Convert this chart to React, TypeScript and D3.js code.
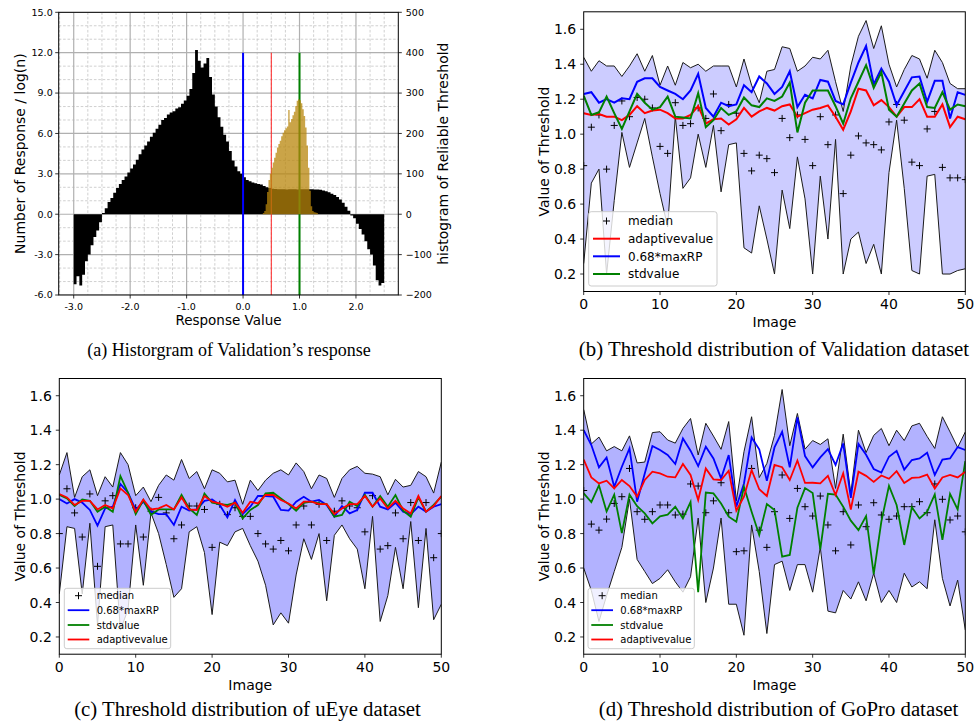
import React from 'react';
import * as d3 from 'd3';

// ---------------- Panel (a) data ----------------
const responseBinStart = -3.0;
const responseBinWidth = 0.05;
const responseLogCounts = [
  -5.2, -4.6, -5.3, -4.5, -3.5, -3.0, -2.3, -1.7, -1.2, -0.6,
  0.1, 0.45, 0.9, 1.2, 1.6, 1.95, 2.25, 2.55, 2.8, 3.1,
  3.4, 3.7, 4.05, 4.45, 4.8, 5.1, 5.4, 5.75, 6.05, 6.35,
  6.65, 7.0, 7.15, 7.4, 7.55, 7.65, 7.85, 7.95, 8.2, 8.45,
  8.8, 9.3, 10.5, 12.2, 11.4, 10.9, 11.2, 11.6, 10.2, 8.9,
  8.0, 7.2, 6.5, 5.9, 5.4, 4.7, 4.0, 3.55, 3.2, 3.0,
  2.75, 2.55, 2.45, 2.35, 2.3, 2.25, 2.2, 2.1, 2.0, 1.95,
  1.9, 1.88, 1.86, 1.85, 1.85, 1.84, 1.85, 1.86, 1.85, 1.84,
  1.85, 1.86, 1.85, 1.85, 1.85, 1.84, 1.83, 1.81, 1.77, 1.71,
  1.63, 1.53, 1.42, 1.28, 1.1, 0.85, 0.55, 0.25, -0.1, -0.3,
  -0.7, -1.1, -1.5, -2.0, -2.6, -3.0, -3.8, -4.9, -5.3, -5.1,
];
const thresholdBinStart = 0.35;
const thresholdBinWidth = 0.025;
const reliableThresholdCounts = [
  3, 8, 25, 55, 85, 100, 115, 128, 140, 152,
  165, 174, 182, 193, 202, 208, 213, 217, 258, 228,
  236, 245, 254, 268, 281, 285, 282, 275, 260, 243,
  215, 170, 115, 58, 20, 8, 5, 4, 3,
];
const markerValues = [0.0, 0.5, 1.0];
const markerColors = ['#0000ff', '#ff2020', '#008000'];
const markerWidths = [2, 1, 2];

const aXTicks = [-3, -2, -1, 0, 1, 2];
const aXTickLabels = ['-3.0', '-2.0', '-1.0', '0.0', '1.0', '2.0'];
const aLeftTicks = [-6, -3, 0, 3, 6, 9, 12, 15];
const aLeftTickLabels = ['-6.0', '-3.0', '0.0', '3.0', '6.0', '9.0', '12.0', '15.0'];
const aRightTicks = [-200, -100, 0, 100, 200, 300, 400, 500];
const aRightTickLabels = ['\u2212200', '\u2212100', '0', '100', '200', '300', '400', '500'];

// ---------------- Threshold panels data ----------------
const imageTicks = [0, 10, 20, 30, 40, 50];
const imageTickLabels = ['0', '10', '20', '30', '40', '50'];
const thrTicks = [0.2, 0.4, 0.6, 0.8, 1.0, 1.2, 1.4, 1.6];
const thrTickLabels = ['0.2', '0.4', '0.6', '0.8', '1.0', '1.2', '1.4', '1.6'];

// (b) Validation
const valUpper = [1.44,1.36,1.42,1.39,1.39,1.33,1.39,1.46,1.36,1.45,1.28,1.39,1.28,1.41,1.38,1.40,1.36,1.39,1.39,1.39,1.27,1.43,1.28,1.18,1.36,1.37,1.50,1.49,1.36,1.39,1.44,1.43,1.48,1.30,1.13,1.39,1.56,1.65,1.49,1.62,1.40,1.27,1.37,1.45,1.43,1.32,1.48,1.41,1.29,1.26,1.26];
const valLower = [0.26,0.72,0.80,0.20,0.62,1.01,0.81,0.95,1.09,0.87,0.66,0.47,1.10,0.69,0.75,1.00,0.81,1.05,0.67,0.94,0.95,0.35,0.32,0.59,0.40,0.20,0.68,0.46,0.87,0.63,0.20,0.76,0.40,0.97,0.20,0.40,0.44,0.26,0.37,0.20,0.78,1.08,0.69,0.22,0.20,0.76,0.77,0.20,0.20,0.22,0.23];
const valMedian = [0.82,1.04,1.11,0.80,1.05,1.19,1.10,1.21,1.20,1.15,0.93,0.89,1.18,1.05,1.06,1.15,1.09,1.23,1.02,1.17,1.12,0.89,0.79,0.88,0.86,0.78,1.09,0.98,1.11,0.97,0.82,1.10,0.94,1.11,0.66,0.88,0.99,0.95,0.94,0.91,1.07,1.17,1.08,0.84,0.82,1.03,1.13,0.81,0.75,0.75,0.74];
const valMaxRP = [1.23,1.24,1.18,1.20,1.18,1.205,1.20,1.30,1.32,1.32,1.27,1.25,1.23,1.20,1.25,1.345,1.15,1.10,1.18,1.16,1.17,1.28,1.24,1.33,1.29,1.23,1.27,1.36,1.155,1.225,1.205,1.31,1.30,1.19,1.17,1.295,1.41,1.505,1.285,1.375,1.30,1.165,1.245,1.325,1.33,1.185,1.305,1.305,1.09,1.24,1.225];
const valAdaptive = [1.12,1.11,1.115,1.10,1.10,1.08,1.11,1.16,1.12,1.135,1.14,1.12,1.09,1.09,1.11,1.16,1.06,1.085,1.09,1.055,1.085,1.15,1.10,1.13,1.15,1.135,1.16,1.17,1.10,1.12,1.14,1.15,1.165,1.10,1.025,1.13,1.26,1.25,1.165,1.195,1.155,1.10,1.155,1.155,1.20,1.10,1.10,1.17,1.04,1.10,1.085];
const valStd = [1.22,1.11,1.125,1.215,1.12,1.03,1.13,1.23,1.18,1.14,1.155,1.215,1.10,1.095,1.09,1.235,1.04,1.08,1.15,1.11,1.13,1.21,1.165,1.155,1.205,1.19,1.215,1.295,1.01,1.18,1.25,1.25,1.25,1.16,1.06,1.205,1.30,1.395,1.265,1.355,1.14,1.10,1.175,1.25,1.29,1.155,1.15,1.24,1.14,1.17,1.16];

// (c) uEye
const ueUpper = [1.14,1.27,1.01,1.13,1.17,1.02,1.13,1.07,1.27,1.20,1.02,1.07,0.985,1.08,1.14,1.11,1.23,1.12,1.16,1.06,1.17,1.15,1.10,1.11,0.97,1.11,1.05,1.11,1.15,1.17,1.14,1.21,1.16,1.06,1.14,1.12,1.01,1.12,1.17,1.19,1.15,1.145,1.13,1.025,1.115,1.07,1.08,1.16,1.13,1.035,1.215];
const ueLower = [0.45,0.84,0.83,0.45,0.86,0.27,0.84,0.85,0.24,0.36,0.85,0.50,0.92,0.80,0.62,0.43,0.48,0.81,0.84,0.69,0.33,0.75,0.73,0.81,0.83,0.73,0.64,0.50,0.27,0.34,0.28,0.56,0.77,0.65,0.80,0.41,0.79,0.85,0.77,0.71,0.48,0.90,0.29,0.44,0.72,0.48,0.87,0.37,0.83,0.30,0.39];
const ueMedian = [0.80,1.06,0.92,0.78,1.03,0.61,0.99,1.02,0.74,0.74,0.95,0.78,0.93,1.01,0.92,0.77,0.85,0.96,0.96,0.94,0.72,0.97,0.91,0.95,0.90,0.90,0.80,0.74,0.71,0.76,0.70,0.85,0.96,0.85,0.97,0.76,0.93,0.99,0.96,0.95,0.81,1.02,0.71,0.73,0.92,0.77,0.98,0.76,0.98,0.66,0.80];
const ueMaxRP = [1.00,0.975,1.00,0.98,0.937,0.846,0.946,0.956,1.088,1.037,0.937,0.985,0.927,0.913,0.913,0.85,0.956,0.933,0.94,0.99,0.998,0.966,0.894,0.995,0.913,0.956,1.018,1.018,1.014,0.937,0.933,0.985,1.014,0.985,0.995,0.966,0.898,0.96,0.917,0.937,1.037,1.037,0.956,0.94,0.979,0.927,0.913,0.956,0.927,0.956,0.971];
const ueStd = [1.024,1.004,0.96,0.998,0.99,0.927,0.956,0.927,1.134,1.037,0.913,0.995,0.908,0.94,0.94,0.94,1.024,0.946,0.908,1.033,0.979,0.971,0.966,0.979,0.888,0.937,0.966,1.033,1.037,1.004,0.971,0.933,0.979,0.985,0.975,0.971,0.898,0.908,0.985,0.96,1.024,0.956,1.018,0.956,1.024,0.933,0.898,1.01,0.927,0.966,1.014];
const ueAdaptive = [1.03,1.01,0.966,0.99,0.99,0.94,0.966,0.946,1.062,1.024,0.927,0.998,0.94,0.946,0.966,0.94,1.01,0.94,0.937,1.018,0.985,0.975,0.956,0.979,0.921,0.985,0.975,1.024,1.024,0.995,0.975,0.946,0.985,0.985,0.971,0.971,0.913,0.946,0.971,0.971,1.018,0.956,1.004,0.946,0.99,0.946,0.917,1.018,0.927,0.96,1.018];

// (d) GoPro
const gpUpper = [1.52,1.32,1.36,1.28,1.305,1.28,1.367,1.21,1.215,1.386,1.391,1.343,1.325,1.41,1.468,1.256,1.44,1.366,1.289,1.45,0.99,1.275,1.478,1.125,1.207,1.37,1.636,1.31,1.497,1.29,1.34,1.317,1.35,1.062,1.377,1.033,1.40,1.27,1.37,1.41,1.31,1.40,1.34,1.425,1.44,1.364,1.294,1.478,1.39,1.30,1.39];
const gpLower = [0.60,0.47,0.29,0.44,0.58,0.72,1.00,0.65,0.58,0.51,0.54,0.59,0.52,0.46,0.55,0.89,0.40,0.60,0.89,0.39,0.39,0.21,0.85,0.58,0.22,0.62,0.64,0.47,0.62,0.62,0.46,0.72,0.35,0.34,0.47,0.42,0.52,0.41,0.57,0.40,0.47,0.40,0.57,0.49,0.52,0.48,0.88,0.54,0.38,0.53,0.24];
const gpMedian = [1.05,0.855,0.82,0.884,0.975,1.014,1.178,0.927,0.883,0.927,0.966,0.966,0.908,0.913,1.088,1.076,0.921,0.99,1.095,0.921,0.695,0.70,1.178,0.82,0.72,0.927,1.14,0.888,1.062,0.956,0.902,1.018,0.85,0.70,0.927,0.734,0.966,0.84,0.979,0.908,0.883,0.902,0.956,0.956,0.985,0.921,1.088,0.999,0.879,0.902,0.81];
const gpMaxRP = [1.40,1.314,1.184,1.242,1.072,1.188,1.294,0.985,1.149,1.308,1.285,1.256,1.204,1.352,1.281,1.192,1.304,1.236,1.12,1.256,0.956,1.091,1.358,1.289,1.107,1.30,1.391,1.184,1.474,1.25,1.184,1.242,1.29,1.198,1.323,1.007,1.32,1.257,1.175,1.154,1.246,1.28,1.171,1.227,1.236,1.269,1.14,1.23,1.236,1.302,1.285];
const gpStd = [1.033,0.983,1.08,0.928,1.026,0.803,1.026,0.959,0.917,0.859,0.90,0.91,0.956,0.888,0.983,0.46,1.038,1.033,0.975,0.898,0.869,1.072,0.927,0.792,0.971,0.937,0.666,0.676,0.95,1.064,1.036,0.708,1.031,1.026,0.956,0.875,0.82,0.902,0.565,0.87,1.077,0.966,0.734,0.953,0.888,0.927,1.028,0.763,1.03,0.94,1.22];
const gpAdaptive = [1.23,1.126,1.091,1.107,1.062,1.111,1.076,1.014,1.111,1.159,1.149,1.13,1.126,1.204,1.14,0.995,1.178,1.115,1.111,1.165,0.933,1.014,1.169,1.057,1.018,1.198,1.185,1.111,1.224,1.094,1.095,1.091,1.135,1.024,1.15,0.94,1.159,1.135,1.10,1.137,1.118,1.162,1.094,1.123,1.126,1.142,1.062,1.126,1.14,1.126,1.159];

const captions = [
  '(a) Historgram of Validation\u2019s response',
  '(b) Threshold distribution of Validation dataset',
  '(c) Threshold distribution of uEye dataset',
  '(d) Threshold distribution of GoPro dataset',
];

const SANS = "'DejaVu Sans', 'Liberation Sans', sans-serif";
const SERIF = "'Liberation Serif', 'Times New Roman', serif";

function HistPanel() {
  const L = 58.7, R = 398.3, T = 12.3, B = 295;
  const x = d3.scaleLinear().domain([-3.266, 2.75]).range([L, R]);
  const y = d3.scaleLinear().domain([-6, 15]).range([B, T]);
  const yr = d3.scaleLinear().domain([-200, 500]).range([B, T]);
  const minorX = d3.range(-13, 11).map((k) => k * 0.25).filter((v) => Math.abs(v - Math.round(v)) > 1e-6);
  const minorY = d3.range(-6, 16).filter((v) => v % 3 !== 0);

  const blackPts: [number, number][] = responseLogCounts.map((v, i) => [responseBinStart + i * responseBinWidth, v]);
  blackPts.push([responseBinStart + responseLogCounts.length * responseBinWidth, responseLogCounts[responseLogCounts.length - 1]]);
  const blackArea = d3.area<[number, number]>().x((d) => x(d[0])).y0(y(0)).y1((d) => y(d[1])).curve(d3.curveStepAfter)(blackPts) || '';

  const goldPts: [number, number][] = reliableThresholdCounts.map((v, i) => [thresholdBinStart + i * thresholdBinWidth, v]);
  goldPts.push([thresholdBinStart + reliableThresholdCounts.length * thresholdBinWidth, reliableThresholdCounts[reliableThresholdCounts.length - 1]]);
  const goldArea = d3.area<[number, number]>().x((d) => x(d[0])).y0(yr(0)).y1((d) => yr(d[1])).curve(d3.curveStepAfter)(goldPts) || '';

  return (
    <g>
      <defs>
        <clipPath id="clipA"><rect x={L} y={T} width={R - L} height={B - T} /></clipPath>
      </defs>
      <g clipPath="url(#clipA)">
        {minorX.map((v) => (
          <line key={'mx' + v} x1={x(v)} x2={x(v)} y1={T} y2={B} stroke="#c4c4c4" strokeWidth={0.8} strokeDasharray="2.6,1.8" />
        ))}
        {minorY.map((v) => (
          <line key={'my' + v} x1={L} x2={R} y1={y(v)} y2={y(v)} stroke="#c4c4c4" strokeWidth={0.8} strokeDasharray="2.6,1.8" />
        ))}
        {aXTicks.map((v) => (
          <line key={'gx' + v} x1={x(v)} x2={x(v)} y1={T} y2={B} stroke="#b0b0b0" strokeWidth={1.2} />
        ))}
        {aLeftTicks.map((v) => (
          <line key={'gy' + v} x1={L} x2={R} y1={y(v)} y2={y(v)} stroke="#b0b0b0" strokeWidth={1.2} />
        ))}
        <path d={blackArea} fill="#000" />
        {markerValues.map((v, i) => (
          <line key={'mk' + i} x1={x(v)} x2={x(v)} y1={y(-6)} y2={y(12)} stroke={markerColors[i]} strokeWidth={markerWidths[i]} />
        ))}
        <path d={goldArea} fill="#b8860b" fillOpacity={0.75} />
      </g>
      <rect x={L} y={T} width={R - L} height={B - T} fill="none" stroke="#000" strokeWidth={1} />
      {aXTicks.map((v, i) => (
        <g key={'xt' + v}>
          <line x1={x(v)} x2={x(v)} y1={B} y2={B + 3.5} stroke="#000" strokeWidth={0.8} />
          <text x={x(v)} y={310.2} fontSize={9.5} fontFamily={SANS} textAnchor="middle">{aXTickLabels[i]}</text>
        </g>
      ))}
      {aLeftTicks.map((v, i) => (
        <g key={'lt' + v}>
          <line x1={L - 3.5} x2={L} y1={y(v)} y2={y(v)} stroke="#000" strokeWidth={0.8} />
          <text x={L - 6} y={y(v)} dy="0.36em" fontSize={9.5} fontFamily={SANS} textAnchor="end">{aLeftTickLabels[i]}</text>
        </g>
      ))}
      {aRightTicks.map((v, i) => (
        <g key={'rt' + v}>
          <line x1={R} x2={R + 3.5} y1={yr(v)} y2={yr(v)} stroke="#000" strokeWidth={0.8} />
          <text x={R + 7.5} y={yr(v)} dy="0.36em" fontSize={9.5} fontFamily={SANS} textAnchor="start">{aRightTickLabels[i]}</text>
        </g>
      ))}
      <text x={(L + R) / 2} y={325} fontSize={13.5} fontFamily={SANS} textAnchor="middle">Response Value</text>
      <text transform={`translate(24.5,${(T + B) / 2}) rotate(-90)`} fontSize={14} fontFamily={SANS} textAnchor="middle">Number of Response / log(n)</text>
      <text transform={`translate(448,${(T + B) / 2}) rotate(-90)`} fontSize={14} fontFamily={SANS} textAnchor="middle">histogram of Reliable Threshold</text>
    </g>
  );
}

type Entry = { label: string; color: string; kind: 'marker' | 'line' };
type Series = { values: number[]; color: string };

function ThresholdPanel(props: {
  id: string; L: number; R: number; T: number; B: number;
  upper: number[]; lower: number[]; median: number[];
  series: Series[]; fillOpacity: number; lineWidth: number;
  legend: Entry[]; legBox: [number, number, number, number]; legRows: number[];
  legHandle: [number, number]; legTextX: number; legFont: number;
  ylabelX: number; tickBase: number; xlabelBase: number;
}) {
  const { id, L, R, T, B, upper, lower, median, series, fillOpacity, lineWidth, legend, legBox, legRows, legHandle, legTextX, legFont } = props;
  const x = d3.scaleLinear().domain([0, 50]).range([L, R]);
  const y = d3.scaleLinear().domain([0.1, 1.7]).range([B, T]);
  const idx = d3.range(upper.length);
  const band = d3.area<number>().x((i) => x(i)).y0((i) => y(lower[i])).y1((i) => y(upper[i]))(idx) || '';
  const lineOf = (arr: number[]) => d3.line<number>().x((i) => x(i)).y((i) => y(arr[i]))(idx) || '';
  const plus = (cx: number, cy: number, h: number) => `M${cx - h},${cy}H${cx + h}M${cx},${cy - h}V${cy + h}`;
  return (
    <g>
      <defs>
        <clipPath id={'clip' + id}><rect x={L} y={T} width={R - L} height={B - T} /></clipPath>
      </defs>
      <g clipPath={`url(#clip${id})`}>
        <path d={band} fill="#0000ff" fillOpacity={fillOpacity} />
        <path d={lineOf(upper)} fill="none" stroke="#1a1a1a" strokeWidth={1} />
        <path d={lineOf(lower)} fill="none" stroke="#1a1a1a" strokeWidth={1} />
        <path d={idx.map((i) => plus(x(i), y(median[i]), 3.5)).join('')} stroke="#000" strokeWidth={1} fill="none" />
        {series.map((s, k) => (
          <path key={k} d={lineOf(s.values)} fill="none" stroke={s.color} strokeWidth={lineWidth} strokeLinejoin="miter" />
        ))}
      </g>
      <rect x={L} y={T} width={R - L} height={B - T} fill="none" stroke="#000" strokeWidth={1} />
      {imageTicks.map((v, i) => (
        <g key={'xt' + v}>
          <line x1={x(v)} x2={x(v)} y1={B} y2={B + 3.5} stroke="#000" strokeWidth={0.8} />
          <text x={x(v)} y={props.tickBase} fontSize={14} fontFamily={SANS} textAnchor="middle">{imageTickLabels[i]}</text>
        </g>
      ))}
      {thrTicks.map((v, i) => (
        <g key={'yt' + v}>
          <line x1={L - 3.5} x2={L} y1={y(v)} y2={y(v)} stroke="#000" strokeWidth={0.8} />
          <text x={L - 7.5} y={y(v)} dy="0.36em" fontSize={14} fontFamily={SANS} textAnchor="end">{thrTickLabels[i]}</text>
        </g>
      ))}
      <text x={(L + R) / 2} y={props.xlabelBase} fontSize={14} fontFamily={SANS} textAnchor="middle">Image</text>
      <text transform={`translate(${props.ylabelX},${(T + B) / 2}) rotate(-90)`} fontSize={14} fontFamily={SANS} textAnchor="middle">Value of Threshold</text>
      <rect x={legBox[0]} y={legBox[1]} width={legBox[2] - legBox[0]} height={legBox[3] - legBox[1]} rx={2.5} fill="#fff" fillOpacity={0.8} stroke="#cccccc" strokeWidth={1} />
      {legend.map((e, k) => (
        <g key={'lg' + k}>
          {e.kind === 'marker' ? (
            <path d={plus((legHandle[0] + legHandle[1]) / 2, legRows[k], 3.5)} stroke="#000" strokeWidth={1} />
          ) : (
            <line x1={legHandle[0]} x2={legHandle[1]} y1={legRows[k]} y2={legRows[k]} stroke={e.color} strokeWidth={lineWidth} />
          )}
          <text x={legTextX} y={legRows[k]} dy="0.35em" fontSize={legFont} fontFamily={SANS}>{e.label}</text>
        </g>
      ))}
    </g>
  );
}

export default function App() {
  const legB: Entry[] = [
    { label: 'median', color: '#000', kind: 'marker' },
    { label: 'adaptivevalue', color: '#ff0000', kind: 'line' },
    { label: '0.68*maxRP', color: '#0000ff', kind: 'line' },
    { label: 'stdvalue', color: '#008000', kind: 'line' },
  ];
  const legCD: Entry[] = [
    { label: 'median', color: '#000', kind: 'marker' },
    { label: '0.68*maxRP', color: '#0000ff', kind: 'line' },
    { label: 'stdvalue', color: '#008000', kind: 'line' },
    { label: 'adaptivevalue', color: '#ff0000', kind: 'line' },
  ];
  return (
    <svg width={974} height={724} style={{ position: 'absolute', left: 0, top: 0, background: '#fff' }}>
      <rect x={0} y={0} width={974} height={724} fill="#fff" />
      <HistPanel />
      <ThresholdPanel
        id="b" L={583.7} R={965.3} T={11.8} B={291.5}
        upper={valUpper} lower={valLower} median={valMedian}
        series={[{ values: valAdaptive, color: '#ff0000' }, { values: valMaxRP, color: '#0000ff' }, { values: valStd, color: '#008000' }]}
        fillOpacity={0.2} lineWidth={2}
        legend={legB} legBox={[588.7, 211.7, 717, 286]} legRows={[221, 238.7, 256.3, 274]}
        legHandle={[593, 620]} legTextX={628} legFont={12}
        ylabelX={549} tickBase={309} xlabelBase={327}
      />
      <ThresholdPanel
        id="c" L={59.3} R={441.3} T={378.5} B={654.2}
        upper={ueUpper} lower={ueLower} median={ueMedian}
        series={[{ values: ueMaxRP, color: '#0000ff' }, { values: ueStd, color: '#008000' }, { values: ueAdaptive, color: '#ff0000' }]}
        fillOpacity={0.3} lineWidth={1.8}
        legend={legCD} legBox={[64.3, 588.3, 170.7, 648.7]} legRows={[595.7, 610.2, 625, 639.5]}
        legHandle={[67.7, 89.3]} legTextX={96.7} legFont={10}
        ylabelX={24.5} tickBase={671.7} xlabelBase={690}
      />
      <ThresholdPanel
        id="d" L={583.7} R={965.3} T={378.5} B={654.2}
        upper={gpUpper} lower={gpLower} median={gpMedian}
        series={[{ values: gpMaxRP, color: '#0000ff' }, { values: gpStd, color: '#008000' }, { values: gpAdaptive, color: '#ff0000' }]}
        fillOpacity={0.3} lineWidth={1.8}
        legend={legCD} legBox={[588, 588.3, 694.3, 648.7]} legRows={[595.7, 610.2, 625, 639.5]}
        legHandle={[591.3, 613]} legTextX={620.3} legFont={10}
        ylabelX={549} tickBase={671.7} xlabelBase={690}
      />
      <text x={229} y={356} fontSize={18} fontFamily={SERIF} textAnchor="middle">{captions[0]}</text>
      <text x={774} y={356} fontSize={20.8} fontFamily={SERIF} textAnchor="middle">{captions[1]}</text>
      <text x={247.5} y={716} fontSize={20.8} fontFamily={SERIF} textAnchor="middle">{captions[2]}</text>
      <text x={778.5} y={716} fontSize={20.8} fontFamily={SERIF} textAnchor="middle">{captions[3]}</text>
    </svg>
  );
}
